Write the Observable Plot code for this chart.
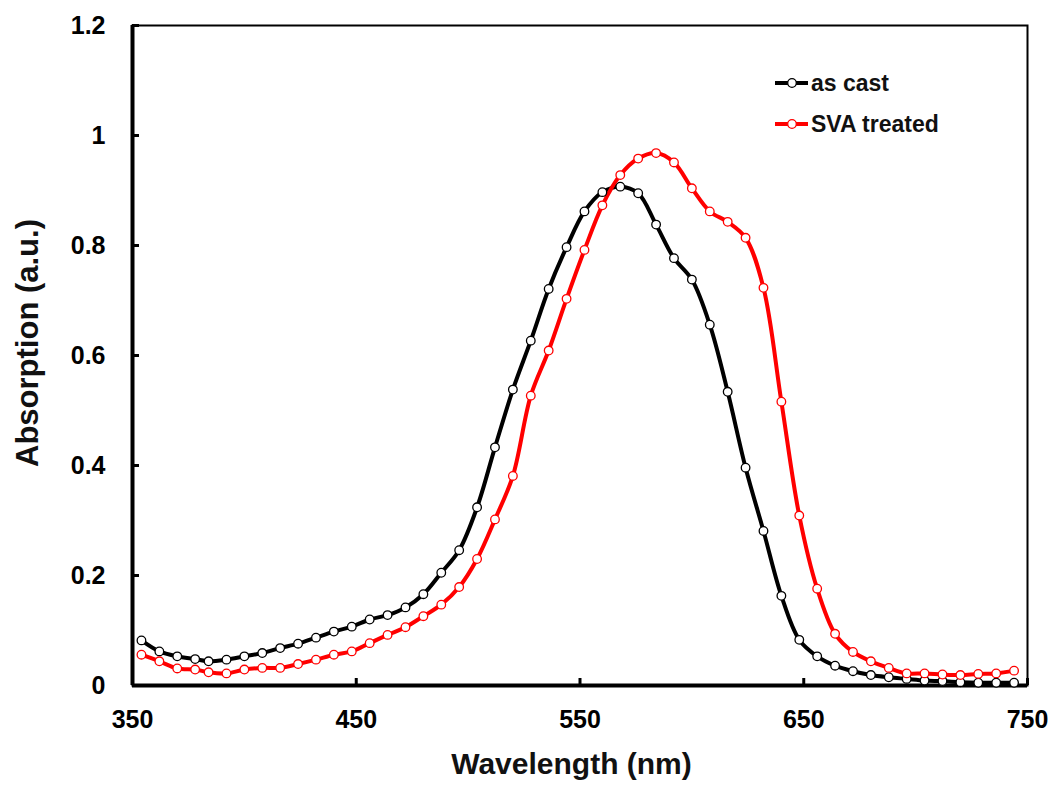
<!DOCTYPE html>
<html>
<head>
<meta charset="utf-8">
<script src="https://cdn.jsdelivr.net/npm/d3@7"></script>
<script src="https://cdn.jsdelivr.net/npm/@observablehq/plot@0.6"></script>
<style>
  html, body { margin: 0; padding: 0; background: #fff; }
  #chart { width: 1059px; height: 795px; }
</style>
</head>
<body>
<div id="chart"></div>
<script>
const wavelength = [354, 362, 370, 378, 384, 392, 400, 408, 416, 424, 432, 440, 448, 456, 464, 472, 480, 488, 496, 504,
  512, 520, 528, 536, 544, 552, 560, 568, 576, 584, 592, 600, 608, 616, 624, 632, 640, 648, 656, 664,
  672, 680, 688, 696, 704, 712, 720, 728, 736, 744];
const asCast = [0.082, 0.062, 0.053, 0.048, 0.044, 0.047, 0.053, 0.059, 0.068, 0.076, 0.087, 0.098, 0.107, 0.120, 0.128, 0.142, 0.166, 0.205, 0.246, 0.324,
  0.433, 0.538, 0.627, 0.721, 0.797, 0.862, 0.897, 0.907, 0.895, 0.838, 0.777, 0.738, 0.656, 0.534, 0.396, 0.281, 0.163, 0.083, 0.053, 0.036,
  0.026, 0.019, 0.015, 0.012, 0.009, 0.008, 0.006, 0.005, 0.005, 0.005];
const svaTreated = [0.056, 0.044, 0.031, 0.029, 0.024, 0.022, 0.029, 0.032, 0.032, 0.039, 0.047, 0.056, 0.062, 0.077, 0.092, 0.106, 0.126, 0.147, 0.179, 0.230,
  0.302, 0.381, 0.527, 0.609, 0.703, 0.792, 0.873, 0.928, 0.958, 0.968, 0.951, 0.904, 0.862, 0.843, 0.814, 0.723, 0.516, 0.309, 0.176, 0.094,
  0.061, 0.044, 0.032, 0.022, 0.022, 0.020, 0.019, 0.021, 0.022, 0.027];
const seriesNames = ["as cast", "SVA treated"];
const seriesColors = ["#000000", "#ff0000"];
const xTicks = [350, 450, 550, 650, 750];
const yTicks = [0, 0.2, 0.4, 0.6, 0.8, 1, 1.2];
const xLabel = "Wavelength (nm)";
const yLabel = "Absorption (a.u.)";

const seriesValues = [asCast, svaTreated];
const rows = seriesNames.flatMap((name, s) =>
  wavelength.map((w, i) => ({ series: name, x: w, y: seriesValues[s][i] })));

const W = 1059, H = 795, mL = 132, mR = 32, mT = 25, mB = 110;
const plotW = W - mL - mR, plotH = H - mT - mB;
const colorOf = name => seriesColors[seriesNames.indexOf(name)];

function decorMark(index, scales, values, dims) {
  const g = d3.create("svg:g");
  // legend
  const x0 = dims.width - dims.marginRight - 252;
  seriesNames.forEach((name, i) => {
    const y = 83 + i * 41;
    g.append("line").attr("x1", x0).attr("x2", x0 + 33).attr("y1", y).attr("y2", y)
      .attr("stroke", seriesColors[i]).attr("stroke-width", 4);
    g.append("circle").attr("cx", x0 + 17).attr("cy", y).attr("r", 4.3)
      .attr("fill", "white").attr("stroke", seriesColors[i]).attr("stroke-width", 1.3);
    g.append("text").attr("x", x0 + 36).attr("y", y).attr("dy", "0.35em")
      .attr("text-anchor", "start")
      .attr("font-size", 23).attr("font-weight", "bold").attr("fill", "#111")
      .text(name);
  });
  // axis titles
  const cx = dims.marginLeft + (dims.width - dims.marginLeft - dims.marginRight) / 2 - 8;
  g.append("text").attr("x", cx).attr("y", 774).attr("text-anchor", "middle")
    .attr("font-size", 30).attr("font-weight", "bold").attr("fill", "#111").text(xLabel);
  g.append("text").attr("transform", "translate(38,343) rotate(-90)").attr("text-anchor", "middle")
    .attr("font-size", 31).attr("font-weight", "bold").attr("fill", "#111").text(yLabel);
  return g.node();
}

const chart = Plot.plot({
  width: W, height: H,
  marginLeft: mL, marginRight: mR, marginTop: mT, marginBottom: mB,
  style: { fontFamily: "'Liberation Sans', Arial, sans-serif", background: "white", color: "black" },
  x: { domain: [350, 750] },
  y: { domain: [0, 1.2] },
  marks: [
    Plot.axisX(xTicks, { tickSize: 0, tickPadding: 25, fontSize: 25, fontWeight: "bold", label: null }),
    Plot.axisY(yTicks, { tickSize: 0, tickPadding: 27, fontSize: 25, fontWeight: "bold", label: null, tickFormat: d3.format("~g") }),
    Plot.tickX(xTicks, { x: d => d, insetTop: plotH - 7, stroke: "black", strokeWidth: 3 }),
    Plot.tickY(yTicks, { y: d => d, insetRight: plotW - 7, stroke: "black", strokeWidth: 3 }),
    Plot.frame({ stroke: "black", strokeWidth: 2 }),
    Plot.ruleX([350], { stroke: "black", strokeWidth: 4 }),
    Plot.ruleY([0], { stroke: "black", strokeWidth: 4 }),
    Plot.line(rows, { x: "x", y: "y", z: "series", stroke: d => colorOf(d.series), strokeWidth: 4, curve: "catmull-rom" }),
    Plot.dot(rows, { x: "x", y: "y", r: 4.3, fill: "white", stroke: d => colorOf(d.series), strokeWidth: 1.3 }),
    decorMark
  ]
});
document.getElementById("chart").appendChild(chart);
</script>
</body>
</html>
